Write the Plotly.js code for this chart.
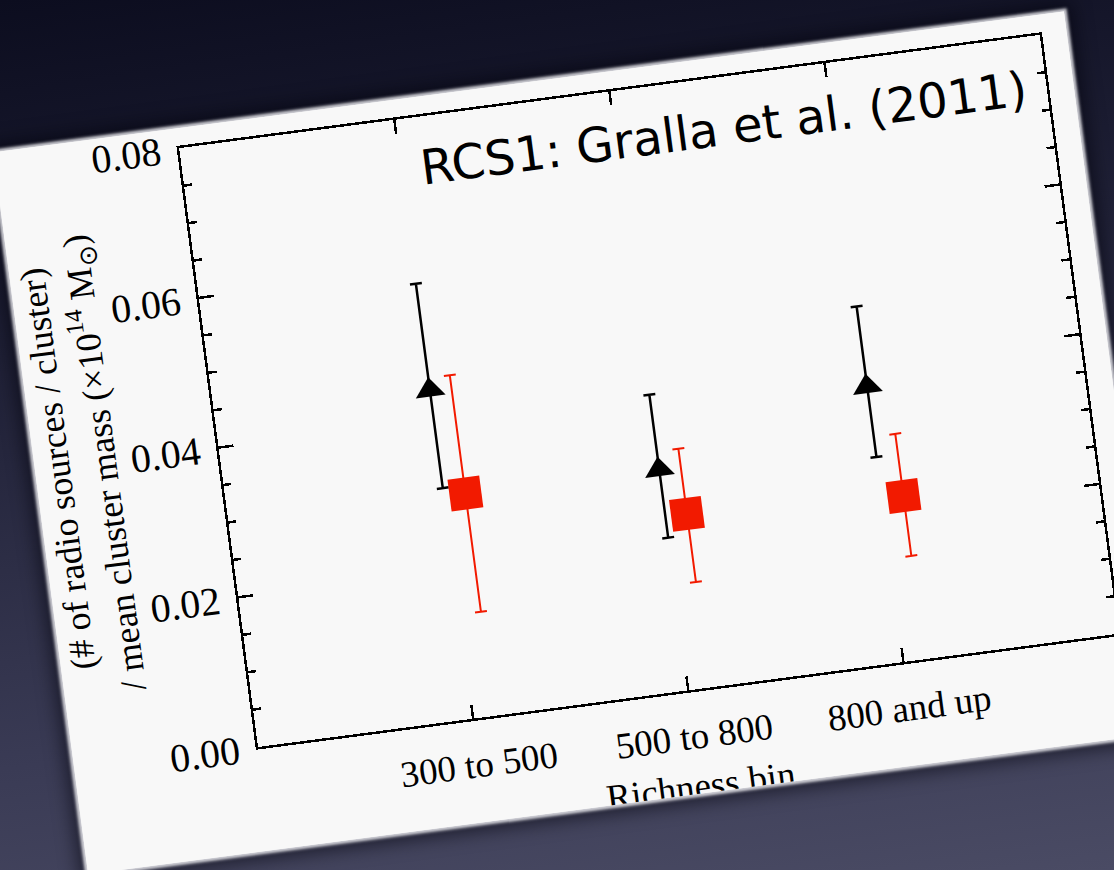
<!DOCTYPE html>
<html>
<head>
<meta charset="utf-8">
<script src="https://cdn.plot.ly/plotly-3.0.1.min.js"></script>
<style>
  html, body { margin:0; padding:0; width:1114px; height:870px; overflow:hidden; }
  body { background: linear-gradient(172deg, #0c0d1f 0%, #1f2036 35%, #3a3b55 75%, #4a4b64 100%); position:relative; }
  #chart {
    position:absolute; left:73.3px; top:123.3px; width:1080px; height:728px;
    transform-origin: 185px 624px; transform: rotate(-7.5deg);
    box-shadow: 0 0 3px 3px rgba(240,240,245,0.85), 0 0 18px 8px rgba(0,0,10,0.55);
    background:#f8f8f8;
  }
</style>
</head>
<body>
<div id="chart"></div>
<script>
// ---- data ----
const categories = ['300 to 500', '500 to 800', '800 and up'];
const categoryPos = [1, 2, 3];
const redPos = [1.1, 2.1, 3.1];

const blackY = [0.0439, 0.0295, 0.0368];
const blackErrPlus = [0.0142, 0.0100, 0.0107];
const blackErrMinus = [0.0131, 0.0091, 0.0094];

const redY = [0.0297, 0.0232, 0.0218];
const redErrPlus = [0.0158, 0.0087, 0.0083];
const redErrMinus = [0.0158, 0.0091, 0.0080];

const yTickVals = [0.00, 0.02, 0.04, 0.06, 0.08];
const yTickText = ['0.00', '0.02', '0.04', '0.06', '0.08'];

const titleText = 'RCS1: Gralla et al. (2011)';
const xTitle = 'Richness bin';
const yTitle = '(# of radio sources / cluster)<br>/ mean cluster mass (×10<sup>14</sup> M<sub>⊙</sub>)';

const serif = 'Liberation Serif, Times New Roman, serif';

const traces = [
  {
    x: categoryPos, y: blackY, type: 'scatter', mode: 'markers',
    marker: {symbol: 'triangle-up', size: 26, color: '#000'},
    error_y: {type: 'data', symmetric: false, array: blackErrPlus, arrayminus: blackErrMinus,
              color: '#000', thickness: 2.5, width: 6},
    cliponaxis: false, showlegend: false
  },
  {
    x: redPos, y: redY, type: 'scatter', mode: 'markers',
    marker: {symbol: 'square', size: 32, color: '#f21a00'},
    error_y: {type: 'data', symmetric: false, array: redErrPlus, arrayminus: redErrMinus,
              color: '#f21a00', thickness: 2, width: 6},
    cliponaxis: false, showlegend: false
  }
];

const layout = {
  width: 1080, height: 728,
  margin: {l: 185, r: 27, t: 20, b: 104},
  paper_bgcolor: '#f8f8f8', plot_bgcolor: '#f8f8f8',
  showlegend: false,
  xaxis: {
    range: [0, 4], tickmode: 'array', tickvals: categoryPos, ticktext: categories,
    ticks: 'inside', ticklen: 14, tickwidth: 2.5, tickcolor: '#000',
    showline: true, linewidth: 2.5, linecolor: '#000', mirror: 'ticks',
    showgrid: false, zeroline: false,
    tickfont: {family: serif, size: 37, color: '#000'},
    ticklabelstandoff: 12
  },
  yaxis: {
    range: [0, 0.08], tickmode: 'array', tickvals: yTickVals, ticktext: yTickText,
    ticks: 'inside', ticklen: 15, tickwidth: 2.5, tickcolor: '#000',
    minor: {dtick: 0.005, ticks: 'inside', ticklen: 8, tickwidth: 2.5, tickcolor: '#000', showgrid: false},
    showline: true, linewidth: 2.5, linecolor: '#000', mirror: 'ticks',
    showgrid: false, zeroline: false,
    tickfont: {family: serif, size: 40, color: '#000'},
    ticklabelstandoff: 8, ticklabeloverflow: 'allow'
  },
  annotations: [
    { // chart title
      text: titleText, xref: 'paper', yref: 'paper', x: 0.625, y: 0.915,
      xanchor: 'center', yanchor: 'middle', showarrow: false,
      font: {family: 'DejaVu Sans, Open Sans, sans-serif', size: 48, color: '#000'}
    },
    { // y-axis title
      text: yTitle, xref: 'paper', yref: 'paper', x: -0.158, y: 0.5,
      xanchor: 'center', yanchor: 'middle', textangle: -90, showarrow: false,
      font: {family: serif, size: 36, color: '#000'}
    },
    { // x-axis title
      text: xTitle, xref: 'paper', yref: 'paper', x: 0.5, y: -0.159,
      xanchor: 'center', yanchor: 'middle', showarrow: false,
      font: {family: serif, size: 37, color: '#000'}
    }
  ]
};

Plotly.newPlot('chart', traces, layout, {displayModeBar: false, staticPlot: true});
</script>
</body>
</html>
